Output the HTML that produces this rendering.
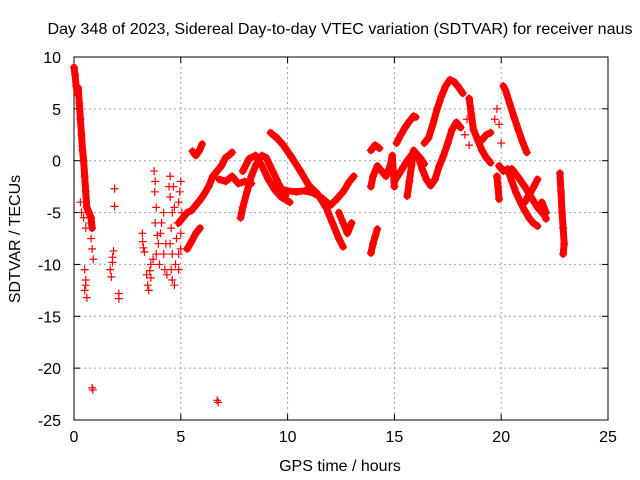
<!DOCTYPE html>
<html><head><meta charset="utf-8"><style>
html,body{margin:0;padding:0;background:#fff;}
svg{display:block;font-family:"Liberation Sans",sans-serif;}
</style></head><body>
<svg id="chart" width="640" height="480" viewBox="0 0 640 480" xmlns="http://www.w3.org/2000/svg">
<rect x="0" y="0" width="640" height="480" fill="#fff"/>
<g id="grid"></g>
<g id="axes"></g>
<g id="marks"></g>
<text x="340" y="34" text-anchor="middle" font-size="16" textLength="585" lengthAdjust="spacingAndGlyphs">Day 348 of 2023, Sidereal Day-to-day VTEC variation (SDTVAR) for receiver naus</text>
<text x="340" y="471" text-anchor="middle" font-size="16">GPS time / hours</text>
<text x="0" y="0" transform="translate(20,239) rotate(-90)" text-anchor="middle" font-size="16">SDTVAR / TECUs</text>
</svg>
<script>
const xTicks=[0,5,10,15,20,25];
const yTicks=[10,5,0,-5,-10,-15,-20,-25];
const seriesHours=[
[0,0.05,0.1,0.15,0.2,0.25,0.3,0.35,0.4,0.45,0.5,0.55,0.6,0.7,0.8,0.85],
[4.9,5.1,5.3,5.5,5.7,5.9,6.1,6.3,6.5,6.7,6.9,7.1,7.3,7.4],
[5.3,5.5,5.7,5.9],
[5.55,5.7,5.85,6.0],
[7.8,7.9,8.1,8.3,8.5,8.8,9.0,9.3,9.6,9.9],
[7.9,8.2,8.5,8.8,9.1,9.4,9.7,10.1],
[9.2,9.5,9.8,10.2,10.6,11,11.4,11.8,12.1,12.4,12.6],
[6.8,7.1,7.4,7.7,8.0,8.3],
[9.6,10,10.4,10.8,11.2,11.6,12,12.3,12.6,12.9,13.1],
[12.4,12.6,12.8,13.0],
[13.9,14.0,14.1,14.2],
[13.9,14.1,14.3],
[13.9,14,14.2,14.4,14.6,14.8,14.9,15.0],
[15.1,15.3,15.5,15.7,15.9,16.0],
[15.6,15.7,15.8,15.9,16.1,16.3,16.5,16.7,16.9,17.1,17.3,17.5,17.7,17.9,18.1],
[16.4,16.6,16.8,17.0,17.2,17.4,17.6,17.8,18.0,18.2],
[15.0,15.3,15.6,15.9,16.2,16.4],
[18.5,18.6,18.7,18.9,19.1,19.3,19.5],
[19.1,19.3,19.5],
[20.1,20.2,20.4,20.6,20.8,21.0,21.2],
[19.9,20.1,20.3,20.5,20.7,20.9,21.1,21.3,21.5,21.7],
[20.5,20.8,21.1,21.4,21.7,22.0,22.1],
[21.7,21.5,21.3,21.1],
[21.9,22.1],
[22.75,22.8,22.85,22.9,22.95,22.9],
[19.8,19.85,19.9]
];
const seriesValues=[
[9,8.3,7.2,6.5,7,5.5,4,2.5,1,0,-1.5,-3,-4.5,-5,-5.5,-6.5],
[-6,-5.5,-5,-4.8,-4.3,-3.8,-3.2,-2.5,-1.5,-1,-0.5,0.3,0.6,0.8],
[-8.5,-7.8,-7,-6.5],
[0.9,0.5,0.9,1.6],
[-5.5,-4.5,-3,-1.5,-0.5,0.5,0.3,-1,-2.3,-3.4],
[-1,0.2,0.5,-0.5,-1.8,-2.8,-3.5,-4],
[2.7,2.2,1.5,0.3,-1,-2.4,-3.2,-4.5,-6,-7.5,-8.3],
[-1.8,-2,-1.5,-2.2,-2,-2.2],
[-2.7,-2.9,-3,-2.9,-3.1,-3.6,-4.3,-3.7,-3,-2,-1.5],
[-5,-6,-7,-6],
[-8.9,-8,-7.3,-6.6],
[1,1.5,1.2],
[-2.5,-1.5,-0.5,-1,-1.5,-0.5,0.5,-2.5],
[1.7,2.5,3.2,3.8,4.3,4.2],
[-3.4,-2,-0.5,1,0.5,-0.8,-1.8,-2.4,-1.8,-0.5,0.5,1.7,3,3.7,3.2],
[1.7,2.2,3.5,5,6.2,7.2,7.8,7.6,7.1,6.5],
[-2,-1,0,0.8,0.3,-0.3],
[6,4.5,3,2,1,0.3,-0.2],
[2,2.5,2.7],
[7.2,6.8,5.5,4.2,3,1.8,0.8],
[-0.5,-1,-0.8,-2,-3.1,-4,-4.8,-5.5,-6,-6.3],
[-0.8,-1.6,-2.5,-3.5,-4.5,-5.2,-5.6],
[-1.8,-2.6,-3.3,-4],
[-4,-5],
[-1.2,-3,-5,-6.5,-8,-9],
[-1.5,-2.5,-3.7]
];
const scatterHours=[0.5,0.55,0.5,0.6,0.55,0.85,0.88,0.7,0.8,0.85,0.9,0.3,0.35,0.45,0.55,
1.7,1.75,1.8,1.85,1.8,1.9,1.9,2.1,2.1,
3.2,3.22,3.25,3.3,
3.4,3.45,3.5,3.55,3.6,3.7,3.6,
3.75,3.8,3.78,3.85,3.8,3.9,3.95,3.85,4.0,4.05,4.1,4.2,4.25,4.3,4.35,4.2,
4.5,4.45,4.5,4.6,4.55,4.5,4.6,4.55,4.6,4.7,4.75,4.8,4.85,4.9,4.95,5.0,5.05,5.0,4.9,4.7,4.65,4.9,5.0,
6.7,6.75,18.3,18.5,18.4,19.7,19.8,19.9,20.0];
const scatterValues=[-10.5,-11.5,-12.5,-13.2,-12,-21.9,-22.1,-6,-7.5,-8.5,-9.5,-4,-5,-5.5,-6.5,
-10.5,-11.2,-9.8,-8.7,-9.3,-2.7,-4.4,-12.8,-13.3,
-7,-7.8,-8.4,-8.8,
-11,-12,-12.5,-10.6,-10,-9.5,-11.3,
-1,-2,-3,-4.5,-6,-7.2,-8,-9,-10,-7,-6,-9,-10.5,-8,-11,-5,
-1.5,-2.5,-3.5,-5,-6.5,-8,-9,-10.5,-11.5,-12,-10,-7.5,-6,-4,-3,-2,-5,-7,-9,-4.5,-2.5,-10.5,-8.5,
-23.1,-23.3,2.5,1.5,4,4,5,3.5,1.7];

const L=74,R=608,T=57,B=420;
const xs=h=>L+(h-0)/25*(R-L);
const ys=v=>T+(10-v)/35*(B-T);
const NS='http://www.w3.org/2000/svg';
function mk(tag,parent,attrs){const e=document.createElementNS(NS,tag);for(const k in attrs)e.setAttribute(k,attrs[k]);parent.appendChild(e);return e;}
const grid=document.getElementById('grid'),axes=document.getElementById('axes'),marks=document.getElementById('marks');
xTicks.forEach(t=>{const x=xs(t);
 if(t>0&&t<25){const g=mk('line',grid,{x1:x,y1:T,x2:x,y2:B,stroke:'#a0a0a0','stroke-dasharray':'2,3'});}
 const a=mk('line',axes,{x1:x,y1:B,x2:x,y2:B-6,stroke:'#000'});
 const b=mk('line',axes,{x1:x,y1:T,x2:x,y2:T+6,stroke:'#000'});
 const l=mk('text',axes,{x:x,y:B+22,'text-anchor':'middle','font-size':'16'});l.textContent=t;
});
yTicks.forEach(t=>{const y=ys(t);
 if(t<10&&t>-25){const g=mk('line',grid,{x1:L,y1:y,x2:R,y2:y,stroke:'#a0a0a0','stroke-dasharray':'2,3'});}
 const a=mk('line',axes,{x1:L,y1:y,x2:L+6,y2:y,stroke:'#000'});
 const b=mk('line',axes,{x1:R,y1:y,x2:R-6,y2:y,stroke:'#000'});
 const l=mk('text',axes,{x:L-13,y:y+6,'text-anchor':'end','font-size':'16'});l.textContent=t;
});
const fr=mk('rect',axes,{x:L,y:T,width:R-L,height:B-T,fill:'none',stroke:'#000'});


function plus(h,v){const x=xs(h),y=ys(v);
 const p=mk('path',marks,{d:`M${x-4},${y}h8M${x},${y-4}v8`,stroke:'#f00','stroke-width':1.2,fill:'none'});
 
 }
seriesHours.forEach((hs,i)=>{const vs=seriesValues[i];
 const pts=hs.map((h,j)=>xs(h)+','+ys(vs[j])).join(' ');
 const pl=mk('polyline',marks,{points:pts,fill:'none',stroke:'#f00','stroke-width':7,'stroke-linejoin':'round','stroke-linecap':'round'});
 
 
 hs.forEach((h,j)=>plus(h,vs[j]));
});
scatterHours.forEach((h,i)=>plus(h,scatterValues[i]));
</script>
</body></html>
